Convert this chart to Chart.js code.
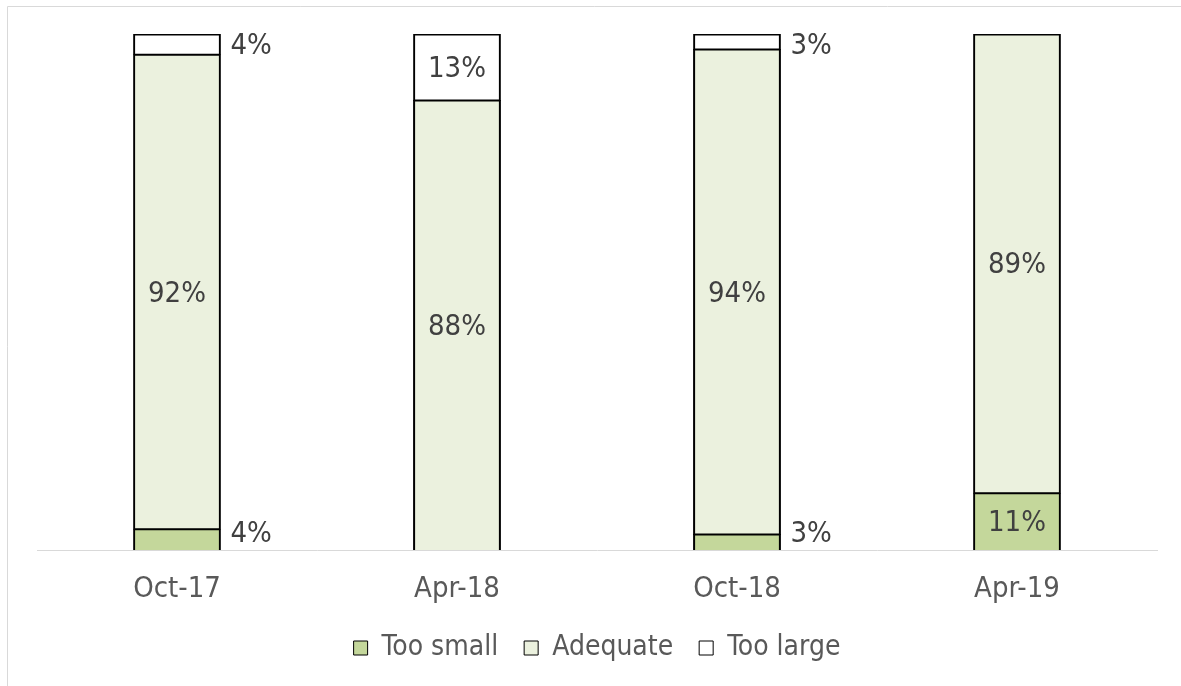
<!DOCTYPE html>
<html>
<head>
<meta charset="utf-8">
<script src="https://cdn.jsdelivr.net/npm/chart.js@4/dist/chart.umd.min.js"></script>
<style>
  html, body { margin: 0; padding: 0; background: #fff; overflow: hidden; }
</style>
</head>
<body>
<canvas id="grafico" width="1181" height="686"></canvas>
<script>
const categories = ['Oct-17', 'Apr-18', 'Oct-18', 'Apr-19'];
const tooSmall = [4, 0, 3, 11];
const adequate = [92, 88, 94, 89];
const tooLarge = [4, 13, 3, 0];
const series = [tooSmall, adequate, tooLarge];

// 100% stacked: each column is scaled to its own total
const totals = categories.map((c, i) => tooSmall[i] + adequate[i] + tooLarge[i]);
const share = (arr) => arr.map((v, i) => v / totals[i] * 100);

const fonte = "'DejaVu Sans Condensed', 'DejaVu Sans', sans-serif";
Chart.defaults.font.family = fonte;
Chart.defaults.font.size = 29;
Chart.defaults.color = '#595959';

// shared edge between stacked segments, no edge on the axis
const bordas = (c) => {
    const i = c.dataIndex, d = c.datasetIndex;
    const below = series.slice(0, d).some((a) => a[i] > 0);
    const above = series.slice(d + 1).some((a) => a[i] > 0);
    return { left: 2, right: 2, top: above ? 1.5 : 2, bottom: below ? 1.5 : 0 };
};

// light frame around the chart
const moldura = {
    id: 'moldura',
    beforeDraw(chart) {
        const ctx = chart.ctx;
        ctx.save();
        ctx.strokeStyle = '#d9d9d9';
        ctx.lineWidth = 1;
        ctx.beginPath();
        ctx.moveTo(7.5, chart.height);
        ctx.lineTo(7.5, 6.5);
        ctx.lineTo(chart.width, 6.5);
        ctx.stroke();
        ctx.restore();
    }
};

// value labels: centred in the segment, or beside the bar when the segment is thin
const rotulos = {
    id: 'rotulos',
    afterDatasetsDraw(chart) {
        const ctx = chart.ctx;
        const area = chart.chartArea;
        ctx.save();
        ctx.font = '29px ' + fonte;
        ctx.fillStyle = '#404040';
        ctx.textBaseline = 'middle';
        chart.data.datasets.forEach((ds, d) => {
            chart.getDatasetMeta(d).data.forEach((bar, i) => {
                const value = ds.raw[i];
                if (!value) return;
                let y = (bar.y + bar.base) / 2;
                y = Math.min(Math.max(y, area.top + 12), area.bottom - 16);
                if (value < 6) {
                    ctx.textAlign = 'left';
                    ctx.fillText(value + '%', bar.x + bar.width / 2 + 10, y);
                } else {
                    ctx.textAlign = 'center';
                    ctx.fillText(value + '%', bar.x, y + 2);
                }
            });
        });
        ctx.restore();
    }
};

const ctx = document.getElementById('grafico');
new Chart(ctx, {
    type: 'bar',
    data: {
        labels: categories,
        datasets: [{
            label: 'Too small',
            data: share(tooSmall),
            raw: tooSmall,
            backgroundColor: '#c4d79b'
        },
        {
            label: 'Adequate',
            data: share(adequate),
            raw: adequate,
            backgroundColor: '#ebf1de'
        },
        {
            label: 'Too large',
            data: share(tooLarge),
            raw: tooLarge,
            backgroundColor: '#ffffff'
        }]
    },
    options: {
        responsive: false,
        animation: false,
        datasets: {
            bar: {
                borderColor: '#000000',
                borderWidth: bordas,
                borderSkipped: false,
                inflateAmount: 0.5,
                barPercentage: 0.31,
                categoryPercentage: 1
            }
        },
        layout: {
            padding: { left: 37, right: 24, top: 34, bottom: 14 }
        },
        plugins: {
            tooltip: { enabled: false },
            legend: {
                position: 'bottom',
                labels: {
                    boxWidth: 14,
                    boxHeight: 14,
                    padding: 26,
                    color: '#595959',
                    font: { size: 28 },
                    generateLabels: (chart) =>
                        Chart.defaults.plugins.legend.labels.generateLabels(chart)
                            .map((item) => Object.assign(item, { lineWidth: 1 }))
                }
            }
        },
        scales: {
            x: {
                stacked: true,
                grid: { display: false },
                border: { color: '#d9d9d9', width: 1 },
                ticks: { padding: 14, color: '#595959' },
                afterFit: (scale) => { scale.height = 58; }
            },
            y: {
                stacked: true,
                display: false,
                min: 0,
                max: 100
            }
        }
    },
    plugins: [moldura, rotulos]
});
</script>
</body>
</html>
